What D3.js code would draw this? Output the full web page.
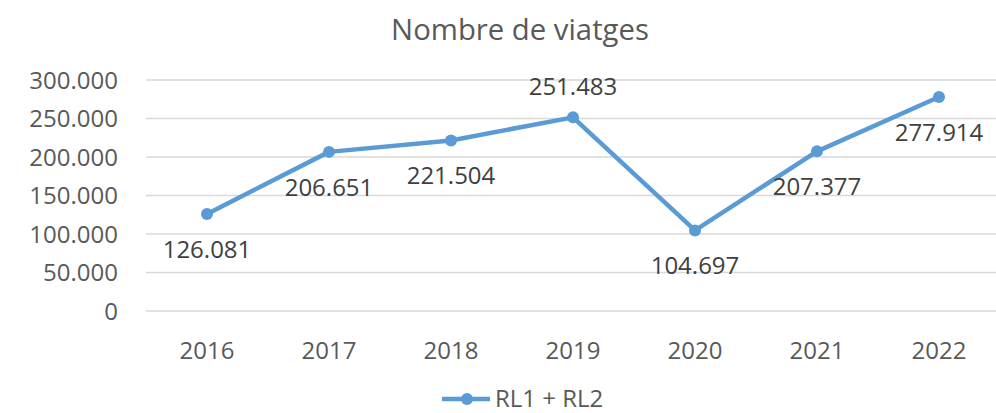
<!DOCTYPE html>
<html><head><meta charset="utf-8">
<script src="https://cdn.jsdelivr.net/npm/d3@7"></script>
<style>body{margin:0;background:#fff;} svg{display:block;font-family:"Open Sans",sans-serif;}</style>
</head><body>
<svg id="c" width="996" height="413"></svg>
<script>
const title = "Nombre de viatges";
const seriesName = "RL1 + RL2";
const categories = ["2016","2017","2018","2019","2020","2021","2022"];
const values = [126081, 206651, 221504, 251483, 104697, 207377, 277914];
const labelAbove = [false, false, false, true, false, false, false];
const yTicks = [0, 50000, 100000, 150000, 200000, 250000, 300000];

const svg = d3.select("#c");
const color = "#5B9BD5";
const fmt = v => v === 0 ? "0" : d3.format(",")(v).replace(/,/g, ".");

const x = d3.scaleBand().domain(categories).range([146, 1000]);
const y = d3.scaleLinear().domain([0, 300000]).range([311, 80]);

// gridlines
svg.append("g").selectAll("line").data(yTicks).join("line")
  .attr("x1", 146).attr("x2", 1000)
  .attr("y1", d => y(d)).attr("y2", d => y(d))
  .attr("stroke", "#D9D9D9").attr("stroke-width", 1.3);

// y labels
svg.append("g").selectAll("text").data(yTicks).join("text")
  .attr("x", 118).attr("y", d => y(d)).attr("dy", "0.36em")
  .attr("text-anchor", "end").attr("font-size", 24).attr("fill", "#595959")
  .text(fmt);

// x labels
svg.append("g").selectAll("text").data(categories).join("text")
  .attr("x", d => x(d) + x.bandwidth()/2).attr("y", 350).attr("dy", "0.36em")
  .attr("text-anchor", "middle").attr("font-size", 24).attr("fill", "#595959")
  .text(d => d);

// title
svg.append("text").attr("x", 520).attr("y", 40).attr("text-anchor", "middle")
  .attr("font-size", 29.3).attr("fill", "#595959").text(title);

const pts = categories.map((c, i) => ({c, v: values[i], above: labelAbove[i]}));
const line = d3.line().x(d => x(d.c) + x.bandwidth()/2).y(d => y(d.v));
svg.append("path").datum(pts).attr("d", line).attr("fill", "none")
  .attr("stroke", color).attr("stroke-width", 4.5).attr("stroke-linejoin", "round");
svg.append("g").selectAll("circle").data(pts).join("circle")
  .attr("cx", d => x(d.c) + x.bandwidth()/2).attr("cy", d => y(d.v)).attr("r", 6)
  .attr("fill", color);

svg.append("g").selectAll("text").data(pts).join("text")
  .attr("x", d => x(d.c) + x.bandwidth()/2)
  .attr("y", d => d.above ? y(d.v) - 22 : y(d.v) + 44)
  .attr("text-anchor", "middle").attr("font-size", 24).attr("fill", "#404040")
  .text(d => fmt(d.v));

// legend
const lg = svg.append("g");
lg.append("line").attr("x1", 442).attr("x2", 490).attr("y1", 399).attr("y2", 399)
  .attr("stroke", color).attr("stroke-width", 4.5);
lg.append("circle").attr("cx", 467).attr("cy", 399).attr("r", 6).attr("fill", color);
lg.append("text").attr("x", 495).attr("y", 398).attr("dy", "0.36em")
  .attr("font-size", 24).attr("fill", "#595959").text(seriesName);
</script>
</body></html>
